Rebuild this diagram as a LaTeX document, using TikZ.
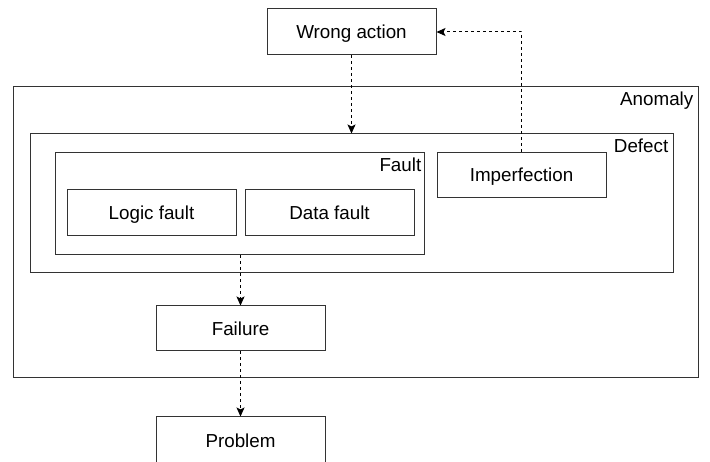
\documentclass[tikz,border=0pt]{standalone}
\usepackage{fontspec}
\setmainfont{Liberation Sans}
\usetikzlibrary{arrows.meta}
\begin{document}
\begin{tikzpicture}[x=1pt,y=-1pt,
 box/.style={draw=black!80, line width=1pt, rectangle, inner sep=0pt, text height=14pt, text depth=0pt, font=\fontsize{18.8}{22}\selectfont},
 lbl/.style={font=\fontsize{18.8}{22}\selectfont, inner sep=0pt, anchor=base east},
 dep/.style={draw=black, line width=1pt, dash pattern=on 3pt off 3pt, -{Stealth[length=9pt,width=8pt,inset=2pt]}}]
\useasboundingbox (0,0) rectangle (710,462);
\clip (0,0) rectangle (710,462);
\fill[white] (0,0) rectangle (710,462);
\node[box, minimum width=169pt, minimum height=46pt] (wa) at (351.5,32) {Wrong action};
\node[box, minimum width=685pt, minimum height=291pt] (anomaly) at (355.5,232.5) {};
\node[box, minimum width=643pt, minimum height=139pt] (defect) at (351.5,203.5) {};
\node[box, minimum width=369pt, minimum height=102pt] (fault) at (239.5,204) {};
\node[box, minimum width=169pt, minimum height=46pt] (logic) at (151.5,213) {Logic fault};
\node[box, minimum width=169pt, minimum height=46pt] (data) at (329.5,213) {Data fault};
\node[box, minimum width=169pt, minimum height=45pt] (imperf) at (521.5,175) {Imperfection};
\node[box, minimum width=169pt, minimum height=45pt] (failure) at (240.5,328.5) {Failure};
\node[box, minimum width=169pt, minimum height=46pt] (problem) at (240.5,440) {Problem};
\node[lbl] (anomalylbl) at ([xshift=-5pt,yshift=-19pt]anomaly.north east) {Anomaly};
\node[lbl] (defectlbl) at ([xshift=-5pt,yshift=-19pt]defect.north east) {Defect};
\node[lbl] (faultlbl) at ([xshift=-3pt,yshift=-19pt]fault.north east) {Fault};
\draw[dep] (wa.south) -- (wa.south |- defect.north);
\draw[dep] (imperf.north) |- (wa.east);
\draw[dep] (failure.north |- fault.south) -- (failure.north);
\draw[dep] (failure.south) -- (problem.north);
\end{tikzpicture}
\end{document}
